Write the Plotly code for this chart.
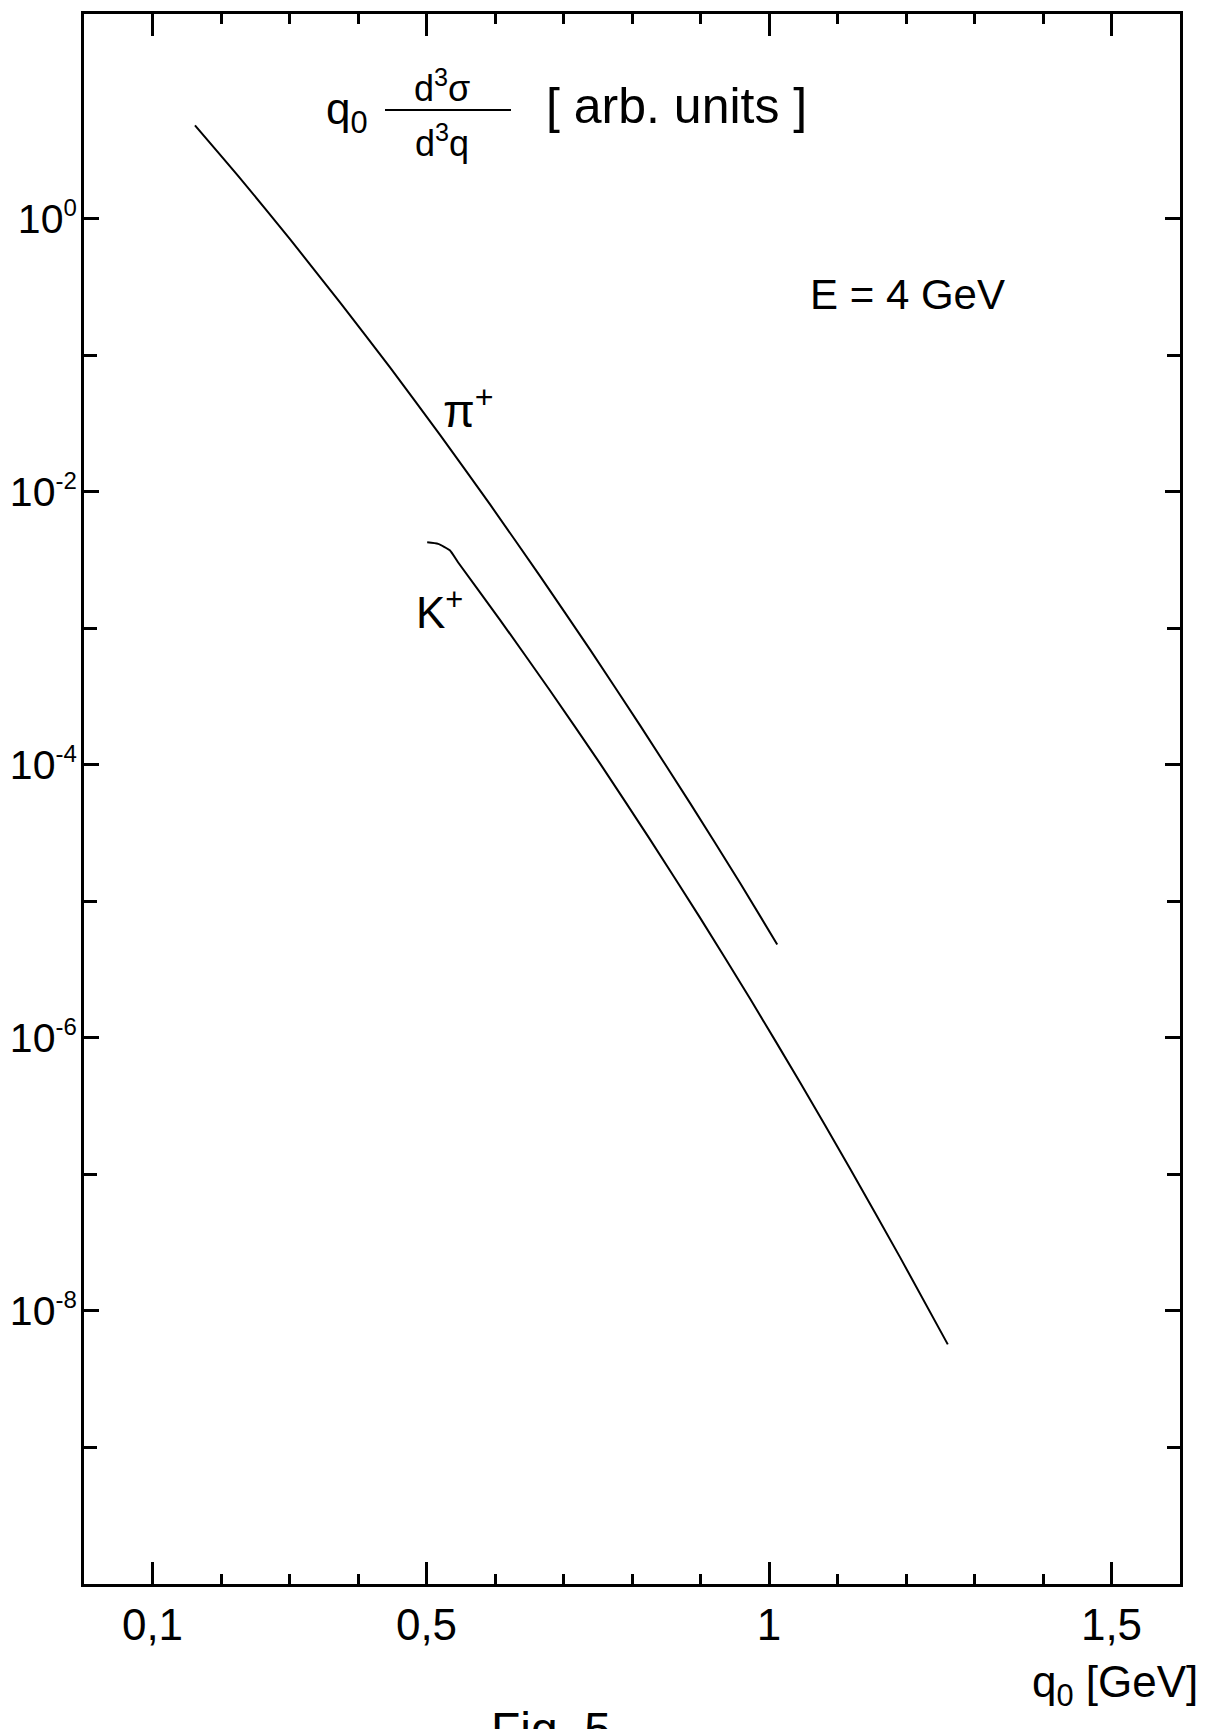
import plotly.graph_objects as go

# ---- data ----
pi_q0 = [0.162, 0.228, 0.301, 0.374, 0.447, 0.520, 0.593, 0.666, 0.739, 0.812, 0.885, 0.958, 1.012]
pi_val = [4.84, 1.98, 0.706, 0.243, 0.0811, 0.0260, 8.05e-3, 2.40e-3, 6.95e-4, 1.94e-4,
          5.22e-5, 1.36e-5, 4.84e-6]

k_q0 = [0.501, 0.517, 0.534, 0.546, 0.607, 0.680, 0.753, 0.826, 0.899, 0.972, 1.045, 1.118, 1.191, 1.261]
k_val = [4.27e-3, 4.16e-3, 3.73e-3, 3.05e-3, 1.16e-3, 3.52e-4, 1.03e-4, 2.86e-5, 7.64e-6,
         1.95e-6, 4.76e-7, 1.11e-7, 2.49e-8, 5.69e-9]

x_major = [0.1, 0.5, 1.0, 1.5]
x_major_text = ["0,1", "0,5", "1", "1,5"]
x_minor = [0.2, 0.3, 0.4, 0.6, 0.7, 0.8, 0.9, 1.1, 1.2, 1.3, 1.4, 1.6]

y_major = [1e0, 1e-2, 1e-4, 1e-6, 1e-8]
y_exponents = ["0", "-2", "-4", "-6", "-8"]
y_minor = [1e-1, 1e-3, 1e-5, 1e-7, 1e-9]

y_major_text = ["10<sup><span style='font-size:24px'>%s</span></sup>" % e for e in y_exponents]

FONT = "Liberation Sans, Arial, DejaVu Sans"

# page is drawn with the browser's 8px body margin; plot area in page pixels:
OFF = 8
PLOT_L, PLOT_R, PLOT_T, PLOT_B = 84, 1180, 14, 1584
W, H = 1208 - OFF, 1729 - OFF
L, T = PLOT_L - OFF, PLOT_T - OFF
R, B = W - (PLOT_R - OFF), H - (PLOT_B - OFF)
PW, PH = PLOT_R - PLOT_L, PLOT_B - PLOT_T


def xp(px):
    return (px - PLOT_L) / PW


def yp(py):
    return (PLOT_B - py) / PH


fig = go.Figure()
fig.add_trace(go.Scatter(x=pi_q0, y=pi_val, mode="lines",
                         line=dict(color="black", width=2, shape="spline", smoothing=0.5),
                         hoverinfo="skip"))
fig.add_trace(go.Scatter(x=k_q0, y=k_val, mode="lines",
                         line=dict(color="black", width=2, shape="spline", smoothing=0.5),
                         hoverinfo="skip"))

axis_common = dict(showline=True, linecolor="black", linewidth=3, mirror="ticks",
                   ticks="inside", tickcolor="black", showgrid=False, zeroline=False,
                   automargin=False)

fig.update_xaxes(range=[0, 1.6], tickmode="array", tickvals=x_major, ticktext=x_major_text,
                 ticklen=22, tickwidth=3, ticklabelstandoff=0,
                 tickfont=dict(family=FONT, size=44, color="black"),
                 minor=dict(tickmode="array", tickvals=x_minor, ticks="inside", ticklen=10,
                            tickwidth=3, tickcolor="black", showgrid=False),
                 **axis_common)
fig.update_yaxes(type="log", range=[-10, 1.5], tickmode="array", tickvals=y_major,
                 ticktext=y_major_text, ticklen=15, tickwidth=3, ticklabelstandoff=-4,
                 tickfont=dict(family=FONT, size=41, color="black"),
                 minor=dict(tickmode="array", tickvals=y_minor, ticks="inside", ticklen=13,
                            tickwidth=3, tickcolor="black", showgrid=False),
                 **axis_common)

ann = []


def add(text, x, y, size, xanchor="center", yanchor="middle", family=FONT):
    ann.append(dict(text=text, x=x, y=y, xref="paper", yref="paper", showarrow=False,
                    xanchor=xanchor, yanchor=yanchor,
                    font=dict(family=family, size=size, color="black")))


add("q<sub>0</sub>", xp(347), yp(112), 44)
add("d<sup>3</sup>σ", xp(442), yp(86), 36)
add("d<sup>3</sup>q", xp(442), yp(141), 36)
add("[ arb. units ]", xp(676), yp(106), 50)
add("E = 4 GeV", xp(907), yp(295), 42)
add("π<sup>+</sup>", xp(468), yp(408), 46)
add("K<sup>+</sup>", xp(439), yp(609), 44)
add("q<sub>0</sub> [GeV]", xp(1200), yp(1685), 44, xanchor="right")
add("Fig. 5", xp(551), yp(1701), 48, yanchor="top")

fig.update_layout(
    width=W, height=H,
    margin=dict(l=L, r=R, t=T, b=B, autoexpand=False),
    paper_bgcolor="white", plot_bgcolor="white",
    showlegend=False,
    annotations=ann,
    shapes=[dict(type="line", xref="paper", yref="paper",
                 x0=xp(385), x1=xp(511), y0=yp(110), y1=yp(110),
                 line=dict(color="black", width=2))],
)

fig.write_html("out.html")
